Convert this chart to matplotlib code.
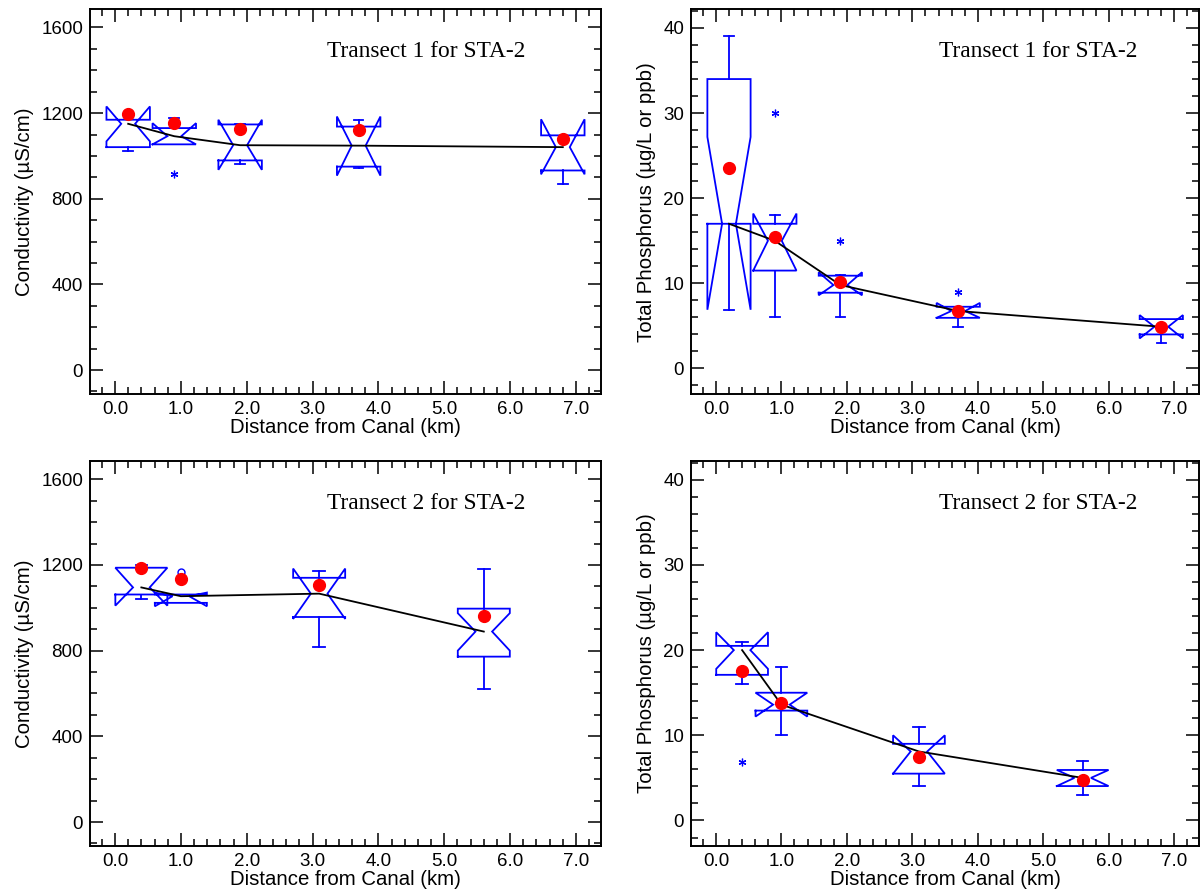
import matplotlib
matplotlib.use("Agg")
import matplotlib.pyplot as plt
from matplotlib.ticker import MultipleLocator, FormatStrFormatter

plt.rcParams['font.family'] = ['Liberation Sans', 'DejaVu Sans']

# Transect 1, conductivity
t1_pos = [0.2, 0.9, 1.9, 3.7, 6.8]
t1c_whislo = [1021, 1054, 960, 945, 867]
t1c_cilo = [1068, 1054, 935, 908, 914]
t1c_q1 = [1041, 1054, 979, 950, 932]
t1c_med = [1150, 1092, 1050, 1048, 1041]
t1c_q3 = [1169, 1130, 1147, 1137, 1096]
t1c_cihi = [1231, 1153, 1169, 1184, 1171]
t1c_whishi = [1169, 1177, 1150, 1170, 1096]
t1c_mean = [1197, 1155, 1124, 1123, 1080]
t1c_out_x = [0.9]
t1c_out_y = [914]

# Transect 1, total phosphorus
t1p_whislo = [6.9, 6.0, 6.0, 4.9, 2.94]
t1p_cilo = [6.9, 11.5, 8.6, 5.95, 3.53]
t1p_q1 = [17.0, 11.5, 8.9, 5.95, 4.0]
t1p_med = [17.0, 15.0, 9.8, 6.75, 4.9]
t1p_q3 = [34.0, 17.0, 10.9, 7.25, 5.8]
t1p_cihi = [27.2, 18.2, 11.3, 7.7, 6.27]
t1p_whishi = [39.1, 18.0, 11.0, 7.25, 5.8]
t1p_mean = [23.6, 15.4, 10.1, 6.8, 4.85]
t1p_out_x = [0.9, 1.9, 3.7]
t1p_out_y = [30.0, 15.0, 9.0]

# Transect 2, conductivity
t2_pos = [0.4, 1.0, 3.1, 5.6]
t2c_whislo = [1041, 1023, 816, 619]
t2c_cilo = [1010, 1007, 948, 800]
t2c_q1 = [1062, 1023, 957, 772]
t2c_med = [1095, 1054, 1066, 889]
t2c_q3 = [1187, 1062, 1140, 996]
t2c_cihi = [1187, 1071, 1183, 975]
t2c_whishi = [1200, 1062, 1172, 1182]
t2c_mean = [1187, 1136, 1107, 960]
t2c_circ_x = [1.0]
t2c_circ_y = [1167]

# Transect 2, total phosphorus
t2p_whislo = [16.0, 10.0, 4.1, 3.0]
t2p_cilo = [17.8, 12.2, 5.5, 4.04]
t2p_q1 = [17.1, 12.9, 5.5, 4.04]
t2p_med = [20.0, 13.6, 8.1, 5.0]
t2p_q3 = [20.5, 15.0, 9.0, 5.93]
t2p_cihi = [22.1, 15.0, 10.0, 5.93]
t2p_whishi = [21.0, 18.0, 11.0, 7.0]
t2p_mean = [17.6, 13.85, 7.5, 4.8]
t2p_out_x = [0.4]
t2p_out_y = [6.9]

BLUE = '#0000ff'


def notch_boxes(ax, pos, whislo, cilo, q1, med, q3, cihi, whishi, width):
    half = width / 2
    cap = width * 0.11
    for i in range(len(pos)):
        x = pos[i]
        L, R = x - half, x + half
        nl, nr = x - half * 0.32, x + half * 0.32
        xs = [L, R, R, nr, R, R, L, L, nl, L, L]
        ys = [q1[i], q1[i], cilo[i], med[i], cihi[i], q3[i], q3[i], cihi[i], med[i], cilo[i], q1[i]]
        ax.plot(xs, ys, color=BLUE, lw=1.3, solid_joinstyle='miter', zorder=2)
        if whislo[i] < q1[i]:
            ax.plot([x, x], [q1[i], whislo[i]], color=BLUE, lw=1.3, zorder=2)
            ax.plot([x - cap, x + cap], [whislo[i], whislo[i]], color=BLUE, lw=1.3, zorder=2)
        if whishi[i] > q3[i]:
            ax.plot([x, x], [q3[i], whishi[i]], color=BLUE, lw=1.3, zorder=2)
            ax.plot([x - cap, x + cap], [whishi[i], whishi[i]], color=BLUE, lw=1.3, zorder=2)
    ax.plot(pos, med, color='black', lw=1.3, zorder=3)


def style_axes(ax, ylim, major, minor, ylabel, title, tx):
    ax.set_xlim(-0.38, 7.38)
    ax.set_ylim(*ylim)
    ax.xaxis.set_major_locator(MultipleLocator(1.0))
    ax.xaxis.set_minor_locator(MultipleLocator(0.2))
    ax.xaxis.set_major_formatter(FormatStrFormatter('%.1f'))
    ax.yaxis.set_major_locator(MultipleLocator(major))
    ax.yaxis.set_minor_locator(MultipleLocator(minor))
    ax.tick_params(which='both', direction='in', top=True, right=True,
                   labelsize=13.5, width=1.1)
    ax.tick_params(which='major', length=9.5, pad=5)
    ax.tick_params(which='minor', length=5)
    for s in ax.spines.values():
        s.set_linewidth(1.4)
    ax.set_xlabel('Distance from Canal (km)', fontsize=14.7, labelpad=0)
    ax.set_ylabel(ylabel, fontsize=14.7, labelpad=5)
    ax.text(tx, 0.89, title, transform=ax.transAxes, ha='center', va='center',
            fontsize=16.8, family=['Liberation Serif', 'DejaVu Serif'])


fig = plt.figure(figsize=(12.03, 8.90), dpi=100)
ax1 = fig.add_axes([0.0748, 0.5573, 0.4248, 0.4323])
ax2 = fig.add_axes([0.5744, 0.5573, 0.4225, 0.4323])
ax3 = fig.add_axes([0.0748, 0.0494, 0.4248, 0.4326])
ax4 = fig.add_axes([0.5744, 0.0494, 0.4225, 0.4326])

cond_ylim = (-112, 1685)
tp_ylim = (-3.0, 42.2)
cond_label = 'Conductivity (µS/cm)'
tp_label = 'Total Phosphorus (µg/L or ppb)'
star = (6, 2, 0)

# top left
notch_boxes(ax1, t1_pos, t1c_whislo, t1c_cilo, t1c_q1, t1c_med, t1c_q3, t1c_cihi, t1c_whishi, 0.66)
ax1.plot(t1c_out_x, t1c_out_y, ls='none', marker=star, ms=5.5, mec=BLUE, mew=0.9, zorder=4)
ax1.plot(t1_pos, t1c_mean, 'o', color='red', ms=8.5, zorder=5)
style_axes(ax1, cond_ylim, 400, 100, cond_label, 'Transect 1 for STA-2', 0.657)

# top right
notch_boxes(ax2, t1_pos, t1p_whislo, t1p_cilo, t1p_q1, t1p_med, t1p_q3, t1p_cihi, t1p_whishi, 0.66)
ax2.plot(t1p_out_x, t1p_out_y, ls='none', marker=star, ms=5.5, mec=BLUE, mew=0.9, zorder=4)
ax2.plot(t1_pos, t1p_mean, 'o', color='red', ms=8.5, zorder=5)
style_axes(ax2, tp_ylim, 10, 2, tp_label, 'Transect 1 for STA-2', 0.684)

# bottom left
notch_boxes(ax3, t2_pos, t2c_whislo, t2c_cilo, t2c_q1, t2c_med, t2c_q3, t2c_cihi, t2c_whishi, 0.79)
ax3.plot(t2c_circ_x, t2c_circ_y, ls='none', marker='o', ms=5, mfc='none', mec=BLUE, mew=1, zorder=4)
ax3.plot(t2_pos, t2c_mean, 'o', color='red', ms=8.5, zorder=5)
style_axes(ax3, cond_ylim, 400, 100, cond_label, 'Transect 2 for STA-2', 0.657)

# bottom right
notch_boxes(ax4, t2_pos, t2p_whislo, t2p_cilo, t2p_q1, t2p_med, t2p_q3, t2p_cihi, t2p_whishi, 0.79)
ax4.plot(t2p_out_x, t2p_out_y, ls='none', marker=star, ms=5.5, mec=BLUE, mew=0.9, zorder=4)
ax4.plot(t2_pos, t2p_mean, 'o', color='red', ms=8.5, zorder=5)
style_axes(ax4, tp_ylim, 10, 2, tp_label, 'Transect 2 for STA-2', 0.684)

fig.savefig('out.png', dpi=100)
